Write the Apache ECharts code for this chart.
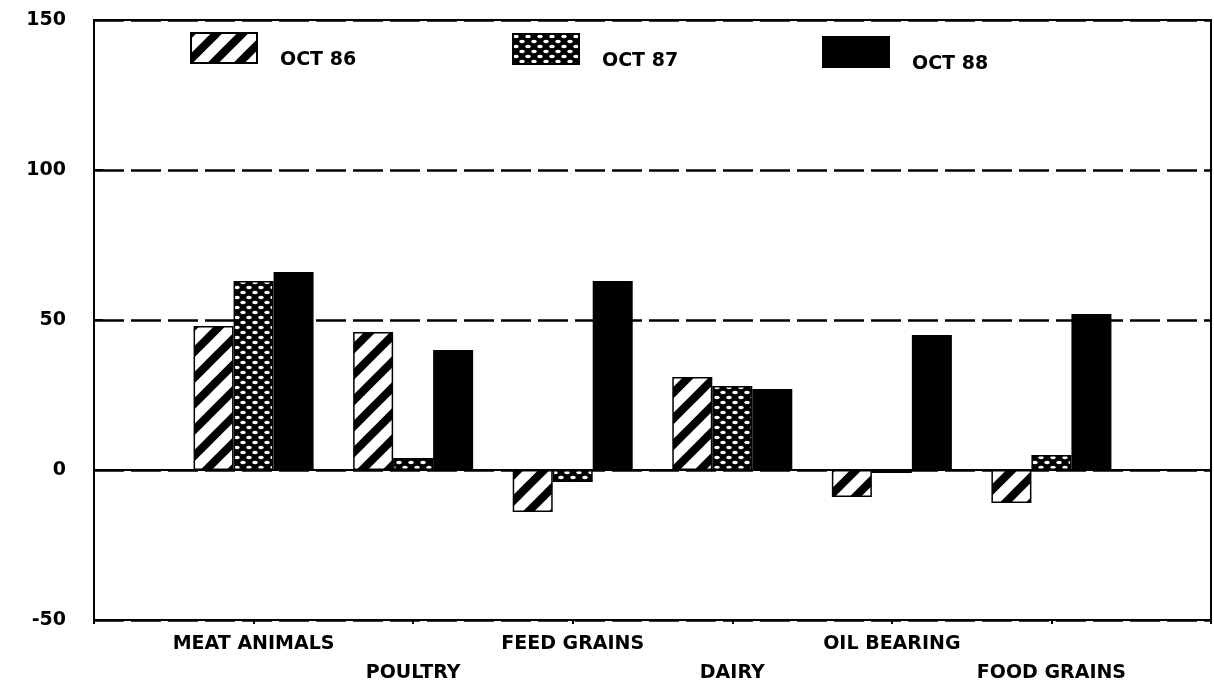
<!DOCTYPE html>
<html>
<head>
<meta charset="utf-8">
<script src="https://cdn.jsdelivr.net/npm/echarts@6/dist/echarts.min.js"></script>
<style>
  html, body { margin: 0; padding: 0; background: #fff; }
  #main { width: 1214px; height: 688px; }
</style>
</head>
<body>
<div id="main"></div>
<script>
// categories (empty slots at both ends keep the groups centred on the ticks)
const categories = ['', 'MEAT ANIMALS', 'POULTRY', 'FEED GRAINS', 'DAIRY', 'OIL BEARING', 'FOOD GRAINS', ''];
const oct86 = [null, 48, 46, -14, 31, -9, -11, null];
const oct87 = [null, 63, 4, -4, 28, -1, 5, null];
const oct88 = [null, 66, 40, 63, 27, 45, 52, null];
const yTicks = [-50, 0, 50, 100, 150];

const FONT = 'DejaVu Sans';

// diagonal hatch: white with black "/" stripes
function hatchPattern() {
  let s = 26;
  let c = document.createElement('canvas');
  c.width = s; c.height = s;
  let ctx = c.getContext('2d');
  ctx.fillStyle = '#fff';
  ctx.fillRect(0, 0, s, s);
  ctx.strokeStyle = '#000';
  ctx.lineWidth = 8;
  for (let k = -1; k <= 1; k++) {
    ctx.beginPath();
    ctx.moveTo(k * s - 4, s + 4);
    ctx.lineTo(k * s + s + 4, -4);
    ctx.stroke();
  }
  return c;
}

// black with staggered white dots
function dotPattern() {
  let w = 12, h = 10;
  let c = document.createElement('canvas');
  c.width = w; c.height = h;
  let ctx = c.getContext('2d');
  ctx.fillStyle = '#000';
  ctx.fillRect(0, 0, w, h);
  ctx.fillStyle = '#fff';
  [[3, 2.5], [9, 7.5]].forEach(p => {
    ctx.beginPath();
    ctx.ellipse(p[0], p[1], 2.8, 1.8, 0, 0, Math.PI * 2);
    ctx.fill();
  });
  return c;
}

const styles = [
  { color: { image: hatchPattern(), repeat: 'repeat' }, borderColor: '#000', borderWidth: 1.5 },
  { color: { image: dotPattern(), repeat: 'repeat' }, borderColor: '#000', borderWidth: 1.5 },
  { color: '#000', borderColor: '#000', borderWidth: 1.5 }
];

const names = ['OCT 86', 'OCT 87', 'OCT 88'];
const values = [oct86, oct87, oct88];
const legendPos = [[190, 24], [512, 25], [822, 28]];

let chart = echarts.init(document.getElementById('main'));

let option = {
  backgroundColor: '#fff',
  animation: false,
  textStyle: { fontFamily: FONT, fontWeight: 'bold', color: '#000' },
  grid: {
    left: 94,
    right: 2,
    top: 20,
    bottom: 64,
    show: true,
    borderColor: '#000',
    borderWidth: 2
  },
  legend: names.map((n, i) => ({
    data: [n],
    left: legendPos[i][0],
    top: legendPos[i][1],
    padding: 0,
    itemWidth: 66,
    itemHeight: 30,
    icon: 'rect',
    selectedMode: false,
    // blank first line pushes the name below the icon's middle
    formatter: name => '\n' + name,
    textStyle: {
      fontFamily: FONT,
      fontWeight: 'bold',
      fontSize: 19,
      lineHeight: 24,
      color: '#000',
      padding: [0, 0, 0, 18]
    }
  })),
  xAxis: [
    {
      type: 'category',
      data: categories,
      boundaryGap: false,
      position: 'bottom',
      axisLine: { onZero: false, lineStyle: { color: '#000', width: 2 } },
      axisTick: { show: true, length: 4, interval: 0, lineStyle: { color: '#000', width: 2 } },
      axisLabel: {
        interval: 0,
        margin: 10,
        fontFamily: FONT,
        fontWeight: 'bold',
        fontSize: 19,
        lineHeight: 29,
        color: '#000',
        formatter: (v, i) => (i % 2 === 0 && v ? '\n' + v : v)
      },
      splitLine: { show: false }
    },
    {
      // solid line at zero
      type: 'category',
      data: categories,
      boundaryGap: false,
      position: 'bottom',
      axisLine: { onZero: true, lineStyle: { color: '#000', width: 2 } },
      axisTick: { show: false },
      axisLabel: { show: false },
      splitLine: { show: false }
    }
  ],
  yAxis: {
    type: 'value',
    min: yTicks[0],
    max: yTicks[yTicks.length - 1],
    interval: 50,
    axisLine: { show: true, lineStyle: { color: '#000', width: 2 } },
    axisTick: { show: true, inside: true, length: 9, lineStyle: { color: '#000', width: 2 } },
    axisLabel: {
      margin: 28,
      fontFamily: FONT,
      fontWeight: 'bold',
      fontSize: 19,
      color: '#000'
    },
    splitLine: {
      show: true,
      lineStyle: { color: '#000', width: 2.5, type: [30, 7] }
    }
  },
  series: names.map((n, i) => ({
    name: n,
    type: 'bar',
    barWidth: 40,
    barGap: '0%',
    itemStyle: styles[i],
    data: values[i]
  }))
};

chart.setOption(option);
</script>
</body>
</html>
